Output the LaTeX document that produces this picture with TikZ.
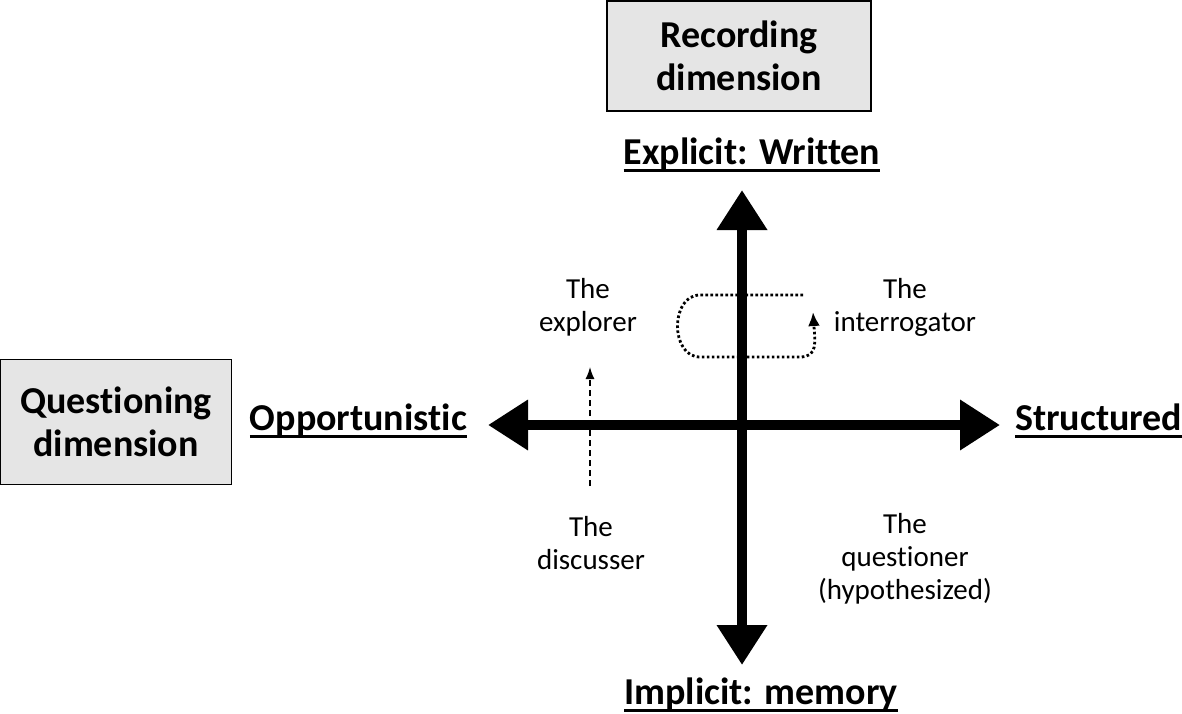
\documentclass[tikz,border=0pt]{standalone}
\usepackage{fontspec}
\setmainfont{Carlito}[Ligatures=NoCommon]
\usetikzlibrary{arrows.meta}
% underline with a thicker rule
\newcommand\ulined[1]{\setbox0\hbox{#1}\rlap{\vrule height -5pt depth 8pt width \wd0}\box0}
\begin{document}
\begin{tikzpicture}[x=1pt, y=-1pt, >=Stealth,
    dimbox/.style={draw=black, line width=1.2pt, fill=black!10, align=center, font=\fontsize{38}{43}\selectfont\bfseries},
    poleLabel/.style={font=\fontsize{38}{43}\selectfont\bfseries, inner sep=0pt},
    roleLabel/.style={align=center, font=\fontsize{29}{33}\selectfont},
    axis/.style={line width=10pt, {Triangle[width=48pt,length=40pt]}-{Triangle[width=48pt,length=40pt]}}]
    \useasboundingbox (0,0) rectangle (1182,714);
    % dimension boxes
    \node[dimbox, minimum width=264pt, minimum height=110pt] (recbox) at (739,56) {Recording\\dimension};
    \node[dimbox, minimum width=231pt, minimum height=125pt] (quebox) at (116,422) {Questioning\\dimension};
    % axis labels
    \node[poleLabel] (explicit) at (752,155) {\ulined{Explicit: Written}};
    \node[poleLabel] (implicit) at (761,695) {\ulined{Implicit: memory}};
    \node[poleLabel, anchor=east] (opport) at (467,421) {\ulined{Opportunistic}};
    \node[poleLabel, anchor=west] (struct) at (1015,421) {\ulined{Structured}};
    % axes
    \coordinate (top) at (742,190);
    \coordinate (bottom) at (742,665);
    \coordinate (left) at (488,425);
    \coordinate (right) at (1000,425);
    \draw[axis] (bottom) -- (top);
    \draw[axis] (left) -- (right);
    % roles
    \node[roleLabel] (explorer) at (588,307) {The\\explorer};
    \node[roleLabel] (interrog) at (905,307) {The\\interrogator};
    \node[roleLabel] (discusser) at (591,543) {The\\discusser};
    \node[roleLabel] (questioner) at (905,559) {The\\questioner\\(hypothesized)};
    % discusser -> explorer
    \coordinate (dStart) at (590,486);
    \coordinate (dEnd) at (590,367);
    \draw[line width=1.4pt, dash pattern=on 6pt off 4pt, -{Latex[length=12pt,width=9pt]}] (dStart) -- (dEnd);
    % interrogator loop
    \coordinate (lStart) at (803,295);
    \coordinate (lEnd) at (813,312);
    \draw[line width=2.8pt, dash pattern=on 2.6pt off 2.4pt, -{Latex[length=14pt,width=12pt]}] (lStart) -- (700,295)
        .. controls (670,295) and (670,357) .. (700,357) -- (800,357)
        .. controls (818,357) and (815,342) .. (lEnd);
\end{tikzpicture}
\end{document}
